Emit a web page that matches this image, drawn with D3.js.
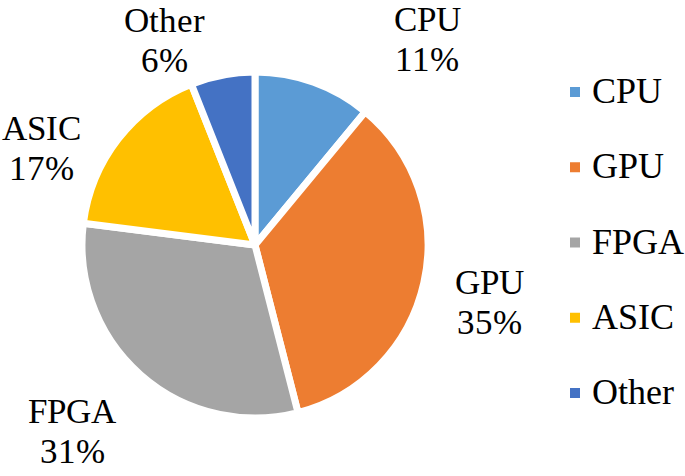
<!DOCTYPE html>
<html><head><meta charset="utf-8">
<script src="https://cdn.jsdelivr.net/npm/d3@7/dist/d3.min.js"></script>
<style>
@font-face { font-family: "RefSerif"; src: local("Liberation Serif"), local("LiberationSerif"), local("Times New Roman"); }
html,body{margin:0;padding:0;background:#fff;}
</style>
</head><body>
<svg id="c" width="685" height="476"></svg>
<script>
const categories = ["CPU", "GPU", "FPGA", "ASIC", "Other"];
const values = [11, 35, 31, 17, 6];
const colors = ["#5B9BD5", "#ED7D31", "#A5A5A5", "#FFC000", "#4472C4"];
const labelPos = [[427, 31], [489, 294], [72, 423], [41, 140], [164, 32]];

const svg = d3.select("#c");
const cx = 255, cy = 245, r = 173;
const font = '"RefSerif", "Liberation Serif", "Times New Roman", Times, serif';

const pie = d3.pie().sort(null).value(d => d)(values);
const arc = d3.arc().innerRadius(0).outerRadius(r);
const color = d3.scaleOrdinal().domain(categories).range(colors);

const g = svg.append("g").attr("transform", `translate(${cx},${cy})`);
g.selectAll("path").data(pie).enter().append("path")
  .attr("d", arc)
  .attr("fill", (d, i) => color(categories[i]))
  .attr("stroke", "#fff")
  .attr("stroke-width", 7)
  .attr("stroke-linejoin", "round");

pie.forEach((d, i) => {
  const [x, y] = labelPos[i];
  svg.append("text").style("font-family", font).style("font-size", "35px")
    .attr("x", x).attr("y", y).attr("text-anchor", "middle").text(categories[i]);
  svg.append("text").style("font-family", font).style("font-size", "35px")
    .attr("x", x).attr("y", y + 40).attr("text-anchor", "middle").text(values[i] + "%");
});

const legY = d3.scalePoint().domain(categories).range([92, 393]);
categories.forEach(c => {
  svg.append("rect").attr("x", 570).attr("y", legY(c) - 5).attr("width", 10).attr("height", 10).attr("fill", color(c));
  svg.append("text").style("font-family", font).style("font-size", "36px")
    .attr("x", 592).attr("y", legY(c) + 11).text(c);
});
</script>
</body></html>
